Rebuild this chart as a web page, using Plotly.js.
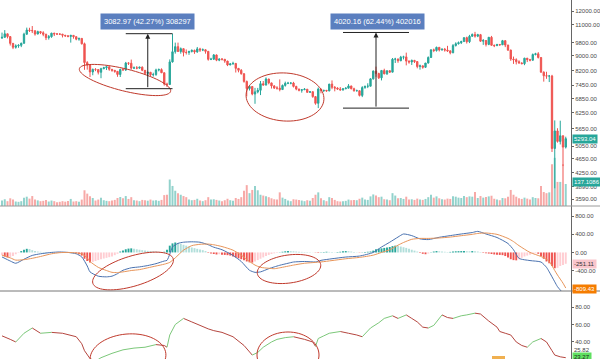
<!DOCTYPE html>
<html><head><meta charset="utf-8">
<script src="https://cdn.plot.ly/plotly-3.0.1.min.js"></script>
<style>html,body{margin:0;padding:0;background:#fff}#chart{width:600px;height:359px}</style>
</head><body><div id="chart"></div>
<script>
// ---- Daily OHLC (25 Aug 2019 .. 17 Mar 2020) ----
const openP = [10100,10140,10370,10185,9754,9510,9598,
 9630,9757,10346,10623,10594,10575,10353,10517,10441,10334,10115,10178,10410,10360,10358,10347,10276,10241,10198,10266,10181,10019,10070,9729,8620,8486,8118,8251,8245,8104,
 8293,8343,8393,8259,8205,8151,7988,8245,8228,8595,8586,8321,8336,8321,8374,8205,8047,8103,7973,7988,8222,8243,8078,7514,7493,8660,9244,9551,9256,9427,9205,
 9199,9261,9324,9235,9413,9342,9360,9267,8804,8813,9055,8757,8816,8808,8708,8491,8550,8577,8309,8206,8027,7642,7296,7397,7047,7146,7218,7531,7463,7761,
 7569,7424,7322,7320,7252,7448,7546,7556,7564,7400,7278,7217,7243,7269,7124,7152,6932,6640,7276,7202,7218,7191,7511,7355,7322,7275,7238,7290,7317,7422,7293,
 7193,7200,6985,7345,7411,7411,7769,8164,8037,7818,8198,8020,8184,8110,8811,8821,8724,8929,8942,8707,8658,8745,8680,8406,8445,8367,8597,8910,9358,9316,9509,
 9350,9393,9344,9294,9180,9614,9729,9795,9866,10116,9856,10208,10327,10214,10312,9889,9934,9690,10141,9633,9608,9686,9663,9924,9650,9341,8820,8784,8672,
 8599,8562,8869,8787,8755,9078,9122,8909,8108,7923,7909,7911,4970,5563,5200,5392,5014];
const highP = [10450,10620,10380,10220,9770,9690,9700,
 9800,10440,10790,10780,10900,10600,10580,10560,10540,10380,10290,10440,10440,10420,10390,10360,10290,10270,10300,10280,10190,10110,10080,9800,8700,8510,8300,8320,8250,8340,
 8390,8400,8400,8270,8210,8160,8290,8330,8660,8640,8790,8410,8430,8390,8410,8220,8130,8120,8080,8290,8300,8310,8090,7580,8800,10370,9800,9800,9500,9430,9380,
 9300,9380,9370,9530,9480,9440,9380,9270,8890,9110,9080,8860,8870,8810,8720,8600,8670,8590,8320,8270,8050,7680,7400,7410,7330,7330,7660,7660,7840,7770,
 7580,7460,7410,7740,7490,7630,7620,7590,7620,7430,7290,7260,7320,7270,7180,7170,6950,7350,7280,7220,7220,7520,7690,7420,7360,7370,7300,7360,7510,7430,7340,
 7250,7210,7410,7430,7550,7800,8200,8400,8080,8200,8290,8190,8200,8880,8890,8850,9000,9010,9190,8740,8790,8770,8680,8510,8450,8600,8970,9370,9430,9550,9520,
 9440,9470,9600,9330,9710,9820,9870,9920,10140,10180,10300,10390,10500,10370,10360,10030,9960,10160,10230,9680,9720,9700,9970,9950,9660,9370,8960,8860,8750,
 8640,8890,8880,8830,9140,9180,9220,8910,8150,8130,7960,7970,5950,5660,5940,5400,5360];
const lowP = [10030,10120,10070,9620,9400,9430,9480,
 9520,9740,10300,10490,10420,10250,10340,10350,10210,9960,9990,10110,10220,10290,10290,10130,10160,10140,9800,10050,9950,9920,9680,8230,8240,7860,7950,8160,7990,7800,
 8260,8220,8180,8130,8080,7870,7860,8180,8170,8490,8240,8290,8260,8290,8160,7990,7960,7910,7880,7920,8150,8060,7440,7370,7480,8620,9130,9230,9130,8970,9080,
 9060,9200,9120,9180,9230,9280,9130,8730,8760,8770,8700,8700,8740,8610,8430,8480,8510,8090,8100,7980,7580,6940,7210,6990,6620,7080,7000,7440,7450,7500,
 7300,7280,7250,7170,7240,7390,7510,7500,7350,7220,7170,7110,7230,7110,7100,6880,6580,6440,7080,7140,7150,7170,7270,7170,7240,7200,7200,7270,7310,7260,7160,
 7170,6940,6910,7290,7320,7400,7730,7870,7760,7690,8000,7970,8070,8100,8600,8610,8700,8800,8470,8560,8490,8600,8310,8240,8290,8330,8570,8890,9220,9250,9260,
 9310,9250,9230,9090,9160,9560,9680,9710,9850,9740,9770,10180,10120,10150,9850,9660,9560,9640,9620,9520,9590,9600,9650,9520,9290,8720,8550,8520,8560,
 8530,8480,8650,8690,8730,9030,8850,8080,7630,7770,7610,4860,3850,5160,5100,4440,4970];
const closeP = [10140,10370,10185,9754,9510,9598,9630,
 9757,10346,10623,10594,10575,10353,10517,10441,10334,10115,10178,10410,10360,10358,10347,10276,10241,10198,10266,10181,10019,10070,9729,8620,8486,8118,8251,8245,8104,8293,
 8343,8393,8259,8205,8151,7988,8245,8228,8595,8586,8321,8336,8321,8374,8205,8047,8103,7973,7988,8222,8243,8078,7514,7493,8660,9244,9551,9256,9427,9205,9199,
 9261,9324,9235,9413,9342,9360,9267,8804,8813,9055,8757,8816,8808,8708,8491,8550,8577,8309,8206,8027,7642,7296,7397,7047,7146,7218,7531,7463,7761,7569,
 7424,7322,7320,7252,7448,7546,7556,7564,7400,7278,7217,7243,7269,7124,7152,6932,6640,7276,7202,7218,7191,7511,7355,7322,7275,7238,7290,7317,7422,7293,7193,
 7200,6985,7345,7411,7411,7769,8164,8037,7818,8198,8020,8184,8110,8811,8821,8724,8929,8942,8707,8658,8745,8680,8406,8445,8367,8597,8910,9358,9316,9509,9350,
 9393,9344,9294,9180,9614,9729,9795,9866,10116,9856,10208,10327,10214,10312,9889,9934,9690,10141,9633,9608,9686,9663,9924,9650,9341,8820,8784,8672,8599,
 8562,8869,8787,8755,9078,9122,8909,8108,7923,7909,7911,4970,5563,5200,5392,5014,5293.04];
const volume = [35,42,30,48,40,28,26,
 30,52,58,46,62,40,
 35,30,32,38,28,34,30,24,26,30,27,31,44,28,30,26,40,
 98,77,60,50,34,40,52,
 36,32,30,34,38,50,56,48,62,44,55,36,34,30,38,36,33,40,34,36,32,38,68,70,
 165,125,95,80,70,62,55,
 40,36,38,45,34,30,36,55,40,42,38,34,30,36,45,36,32,50,44,55,
 95,130,80,100,125,98,70,65,60,55,
 48,42,40,85,52,44,34,30,42,40,38,34,30,36,32,50,70,85,48,36,30,55,50,38,30,28,30,32,40,36,38,
 36,45,52,40,38,60,72,66,55,58,42,40,36,80,65,48,50,44,58,40,42,38,46,40,38,44,55,70,52,60,48,
 42,40,46,44,60,58,52,50,62,55,60,58,87,50,62,52,56,60,64,45,40,36,50,48,58,100,70,58,48,
 44,52,46,40,55,50,48,125,87,80,85,260,300,150,150,260,137.1086];

// ---- MACD ----
const macdHist = [-60,-90,-110,-100,-80,-40,-10,
 30,60,80,75,50,
 30,20,15,10,8,5,5,3,0,
 -5,-8,-5,5,3,-5,
 -20,-40,-70,-140,-190,-220,
 -210,-190,-170,-150,-135,-120,-105,-90,-60,-30,
 20,45,70,85,90,80,70,60,50,40,35,30,25,20,
 15,10,15,
 60,150,200,220,210,190,170,150,130,110,95,80,65,50,30,
 -10,-25,-35,-45,-40,-50,-55,-60,
 -70,-90,-110,-130,-150,-175,-200,-220,-225,
 -200,-170,-140,-110,-80,-55,-35,-20,-10,
 5,15,25,30,28,25,20,15,12,10,8,5,3,
 -5,-10,5,10,15,12,8,5,10,15,
 25,30,28,20,
 10,5,-5,5,10,15,
 20,40,70,80,90,100,110,120,140,150,145,
 130,115,100,80,60,40,20,
 -15,-30,-40,-25,
 5,20,30,25,20,15,10,12,20,25,28,30,32,28,25,30,28,20,10,
 -10,-20,-25,-35,-45,-50,-55,-60,
 -80,-110,-150,-170,-175,
 -150,-120,-90,-70,-50,-30,-20,-30,
 -80,-140,-200,-240,-300,-350,-340,-300,-280,-251.11];
const macdIdx = [0,3,5,8,11,14,18,21,24,27,29,31,32,35,38,40,42,44,47,50,53,56,59,60,61,62,64,66,69,72,75,77,80,84,87,90,92,94,97,99,101,104,106,110,114,116,120,125,130,135,138,141,144,146,149,152,155,159,163,167,171,173,176,180,184,186,188,192,196,198,199,201,202,204,205];
const macdLine = [-100,-190,-240,-150,-66,-30,0,10,0,-30,-100,-300,-430,-525,-540,-525,-470,-394,-340,-320,-290,-248,-190,-175,-40,120,200,226,235,226,170,116,60,-66,-200,-394,-440,-430,-360,-320,-284,-240,-212,-200,-210,-175,-140,-102,-80,0,120,226,340,408,372,300,284,335,372,408,440,466,408,330,197,60,-131,-180,-212,-330,-430,-650,-758,-900,-980];
const sigIdx = [0,3,5,8,11,14,18,21,24,27,29,31,32,35,38,40,42,44,47,50,53,56,59,61,63,66,69,72,75,77,80,84,87,90,92,94,97,99,101,106,110,116,120,125,130,135,138,141,144,146,149,152,155,159,163,167,171,173,176,180,184,186,188,192,196,198,199,201,202,204,205];
const signalLine = [-60,-120,-170,-160,-130,-90,-30,-5,0,-10,-30,-120,-200,-330,-400,-440,-445,-430,-400,-380,-340,-300,-260,-220,-120,50,150,180,185,170,130,50,-60,-200,-280,-330,-350,-360,-340,-280,-240,-210,-180,-140,-110,-60,0,60,160,220,290,310,310,320,340,370,400,420,430,400,310,240,150,0,-90,-150,-200,-400,-500,-680,-787];

// ---- RSI ----
const rsiIdx = [0,3,5,8,11,14,18,22,27,29,30,32,34,36,40,44,48,52,56,59,60,61,63,66,69,72,75,77,80,84,88,91,93,95,98,100,103,106,110,113,114,115,117,119,123,126,129,131,134,137,139,142,144,147,149,151,153,155,157,160,162,164,167,169,172,174,177,180,181,183,185,187,189,191,193,196,198,200,201,203,205];
const rsiVal = [47,43,40,50,56,50,51,50,46,38,30,21,18,22,27,31,33,34,37,36,34,48,60,67,63,59,55,53,51,46,36,25,28,34,40,43,45,46,43,40,35,44,47,50,52,50,48,46,56,62,67,70,67,71,67,63,57,56,59,71,68,67,70,71,73,72,64,57,52,50,48,40,36,34,40,44,40,30,25,23,22];

// ---- axis tick labels ----
const priceTicks = [12000,11000,9800,9000,8200,7450,6850,6250,5650,5050,4650,4250,3890,3590];
const macdTicks = [800,400,0,-400];
const rsiTicks = [80,60,40];

// ---- measure tool readings ----
const measure1 = {text:'3082.97 (42.27%) 308297', low:7293.5, diff:3082.97, from:45, to:62, at:53};
const measure2 = {text:'4020.16 (62.44%) 402016', low:6438.4, diff:4020.16, from:124, to:148, at:136};

// ================= drawing =================
const W = 571, H = 359;
const px = x => x / W, py = y => 1 - y / H;
const dayIdx = closeP.map((_, i) => i);
const UP = '#26a69a', DN = '#ef5350';

const priceRange = [Math.log10(3437), Math.log10(12880)];
const pricePanelPx = 206;

const volColors = closeP.map((c, i) => c >= openP[i] ? 'rgba(38,166,154,0.5)' : 'rgba(239,83,80,0.5)');
const histColors = macdHist.map((v, i) => {
  const p = i ? macdHist[i-1] : v;
  if (v >= 0) return v >= p ? '#26a69a' : '#b2dfdb';
  return v < p ? '#ef5350' : '#ffcdd2';
});

const traces = [];
traces.push({type:'bar', x:dayIdx, y:volume, xaxis:'x', yaxis:'y', marker:{color:volColors, line:{width:0}}, width:0.72, hoverinfo:'skip'});
traces.push({type:'candlestick', x:dayIdx, open:openP, high:highP, low:lowP, close:closeP, xaxis:'x', yaxis:'y2',
  increasing:{line:{color:UP, width:1}, fillcolor:UP}, decreasing:{line:{color:DN, width:1}, fillcolor:DN}, whiskerwidth:0, hoverinfo:'skip'});
traces.push({type:'bar', x:dayIdx, y:macdHist, xaxis:'x', yaxis:'y3', marker:{color:histColors, line:{width:0}}, width:0.7, hoverinfo:'skip'});
traces.push({type:'scatter', mode:'lines', x:macdIdx, y:macdLine, xaxis:'x', yaxis:'y3', line:{color:'#4a72b0', width:1, shape:'spline', smoothing:0.6}, hoverinfo:'skip'});
traces.push({type:'scatter', mode:'lines', x:sigIdx, y:signalLine, xaxis:'x', yaxis:'y3', line:{color:'#e8955a', width:1, shape:'spline', smoothing:0.6}, hoverinfo:'skip'});

// RSI coloured by direction
const gx = [], gy = [], rx = [], ry = [];
for (let i = 1; i < rsiVal.length; i++) {
  const tx = rsiVal[i] >= rsiVal[i-1] ? [gx, gy] : [rx, ry];
  tx[0].push(rsiIdx[i-1], rsiIdx[i], null);
  tx[1].push(rsiVal[i-1], rsiVal[i], null);
}
traces.push({type:'scatter', mode:'lines', x:rx, y:ry, xaxis:'x', yaxis:'y4', line:{color:'#b5463f', width:1}, hoverinfo:'skip', connectgaps:false});
traces.push({type:'scatter', mode:'lines', x:gx, y:gy, xaxis:'x', yaxis:'y4', line:{color:'#7cc87a', width:1}, hoverinfo:'skip', connectgaps:false});

const tickFont = {family:'Liberation Sans, Arial, sans-serif', size:6, color:'#4a4a4a'};
const axCommon = {side:'right', showgrid:false, zeroline:false, showline:true, linecolor:'#666', linewidth:1,
  ticks:'outside', ticklen:2, tickcolor:'#666', tickfont:tickFont, fixedrange:true};

function ellipsePath(cx, cy, rxp, ryp, deg) {
  const a = deg * Math.PI / 180; let d = '';
  for (let k = 0; k <= 72; k++) {
    const t = 2 * Math.PI * k / 72;
    const ex = rxp * Math.cos(t), ey = ryp * Math.sin(t);
    const X = cx + ex * Math.cos(a) - ey * Math.sin(a);
    const Y = cy + ex * Math.sin(a) + ey * Math.cos(a);
    d += (k ? 'L' : 'M') + px(X).toFixed(5) + ',' + py(Y).toFixed(5);
  }
  return d + 'Z';
}
const ellipseStyle = {color:'#c0392b', width:1};
const ellipses = [[125,80,47,11,14],[285,97,39,24,4],[133,271,42,15,-17],[289,269,32,14,-8],[128,357,38,23,-5],[288,355,31,23,0]];

const shapes = [];
ellipses.forEach(e => shapes.push({type:'path', xref:'paper', yref:'paper', path:ellipsePath(...e), line:ellipseStyle}));
[measure1, measure2].forEach(m => {
  [m.low, m.low + m.diff].forEach(v => shapes.push({type:'line', xref:'x', yref:'y2', x0:m.from, x1:m.to, y0:v, y1:v, line:{color:'#222', width:1}}));
});
shapes.push({type:'line', xref:'paper', yref:'paper', x0:0, x1:600/W, y0:py(206), y1:py(206), line:{color:'#9a9a9a', width:1}});
shapes.push({type:'line', xref:'paper', yref:'paper', x0:0, x1:600/W, y0:py(291), y1:py(291), line:{color:'#777', width:1}});
shapes.push({type:'rect', xref:'paper', yref:'paper', x0:px(492), x1:px(505), y0:py(359), y1:py(356), line:{width:0}, fillcolor:'#f0b050'});

const annotations = [];
const boxFont = {family:'Liberation Sans, Arial, sans-serif', size:7.5, color:'#ffffff'};
[[measure1,147,22],[measure2,377,22]].forEach(([m, cx, cy]) => {
  annotations.push({xref:'paper', yref:'paper', x:px(cx), y:py(cy), xanchor:'center', yanchor:'middle', text:m.text, showarrow:false, bgcolor:'#5b7fbf', borderpad:3, font:boxFont});
  const lenPx = (Math.log10(m.low + m.diff) - Math.log10(m.low)) * pricePanelPx / (priceRange[1] - priceRange[0]);
  annotations.push({xref:'x', yref:'y2', x:m.at, y:Math.log10(m.low + m.diff), ax:0, ay:lenPx, text:'', showarrow:true,
    arrowhead:2, arrowsize:1, arrowwidth:1, arrowcolor:'#222'});
});
const lab = (yref, y, text, bg, col, ys) => ({xref:'paper', yref:yref, x:1, xanchor:'left', yanchor:'middle', xshift:1, yshift:ys || 0, y:y, text:text, showarrow:false,
  bgcolor:bg, borderpad:1, font:{family:'Liberation Sans, Arial, sans-serif', size:6, color:col}});
annotations.push(lab('y2', Math.log10(closeP[closeP.length-1]), closeP[closeP.length-1].toFixed(2), UP, '#fff'));
annotations.push(lab('y', volume[volume.length-1], volume[volume.length-1].toFixed(4), UP, '#fff', 2));
annotations.push(lab('y3', macdHist[macdHist.length-1], macdHist[macdHist.length-1].toFixed(2), '#f9c5cc', '#333'));
annotations.push(lab('y3', -809, '-809.43', '#f57c00', '#fff'));
annotations.push(lab('y4', 29.8, '25.82', 'rgba(0,0,0,0)', '#444', 1));
annotations.push(lab('y4', 23.4, '23.27', '#5fe060', '#222', -1));

const layout = {
  width:600, height:359, margin:{l:0, r:29, t:0, b:0}, paper_bgcolor:'#fff', plot_bgcolor:'#fff',
  showlegend:false, hovermode:false, dragmode:false,
  xaxis:{range:[-2/2.75, -2/2.75 + W/2.75], visible:false, rangeslider:{visible:false}, fixedrange:true, anchor:'y4'},
  yaxis:{domain:[1 - pricePanelPx/H, 1], range:[0, pricePanelPx * 6.23], visible:false, fixedrange:true},
  yaxis2:Object.assign({}, axCommon, {overlaying:'y', type:'log', range:priceRange,
    tickvals:priceTicks, ticktext:priceTicks.map(v => v.toFixed(2))}),
  yaxis3:Object.assign({}, axCommon, {domain:[1 - 291/H, 1 - 206/H], anchor:'x', range:[-853, 1027],
    tickvals:macdTicks, ticktext:macdTicks.map(v => v.toFixed(2))}),
  yaxis4:Object.assign({}, axCommon, {domain:[0, 1 - 291/H], anchor:'x', range:[20.5, 98.4],
    tickvals:rsiTicks, ticktext:rsiTicks.map(v => v.toFixed(2))}),
  shapes:shapes, annotations:annotations
};
Plotly.newPlot('chart', traces, layout, {staticPlot:true, displayModeBar:false});
</script></body></html>
